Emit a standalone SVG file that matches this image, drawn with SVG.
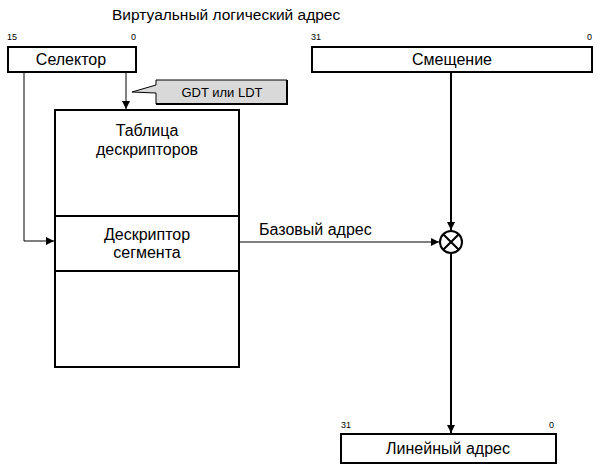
<svg xmlns="http://www.w3.org/2000/svg" width="601" height="467" viewBox="0 0 601 467">
<defs>
<style>
.box{fill:#fff;stroke:#000;stroke-width:2}
.t{font-family:"Liberation Sans",Arial,sans-serif;font-size:16px;fill:#000}
.m{text-anchor:middle}
.n{font-family:"Liberation Sans",Arial,sans-serif;font-size:9px;fill:#000}
.thin{fill:none;stroke:#000;stroke-width:1}
.thick{fill:none;stroke:#000;stroke-width:2}
</style>
<marker id="ah" viewBox="0 0 10 10" refX="10" refY="5" markerWidth="9" markerHeight="8" markerUnits="userSpaceOnUse" orient="auto">
<path d="M0,0 L10,5 L0,10 z" fill="#000"/>
</marker>
</defs>
<rect width="601" height="467" fill="#fff"/>
<text class="t" x="112" y="20" style="font-size:15.5px">Виртуальный логический адрес</text>
<g id="selector">
<rect class="box" x="8" y="47" width="128" height="25"/>
<text class="t m" x="71" y="65">Селектор</text>
<text class="n" x="7" y="40">15</text>
<text class="n" x="131" y="40">0</text>
</g>
<g id="offset">
<rect class="box" x="312" y="47" width="280" height="25"/>
<text class="t m" x="452" y="65">Смещение</text>
<text class="n" x="311" y="40">31</text>
<text class="n" x="587" y="40">0</text>
</g>
<g id="callout">
<polygon points="156,80 287,80 287,104 156,104 156,93 132,92 156,85" fill="#d9d9d9" stroke="#000" stroke-width="1"/>
<polyline points="287,80 287,104 156,104" fill="none" stroke="#000" stroke-width="2"/>
<text class="t m" x="222" y="97" style="font-size:13px">GDT или LDT</text>
</g>
<g id="table">
<rect class="box" x="55" y="110" width="184" height="257"/>
<line class="thick" x1="55" y1="216" x2="239" y2="216"/>
<line class="thick" x1="55" y1="271" x2="239" y2="271"/>
<text class="t m" x="147" y="136">Таблица</text>
<text class="t m" x="147" y="155">дескрипторов</text>
<text class="t m" x="147" y="240">Дескриптор</text>
<text class="t m" x="147" y="258">сегмента</text>
</g>
<g id="adder">
<circle cx="451" cy="242" r="11" fill="#fff" stroke="#000" stroke-width="2"/>
<line class="thick" x1="443.2" y1="234.2" x2="458.8" y2="249.8"/>
<line class="thick" x1="458.8" y1="234.2" x2="443.2" y2="249.8"/>
</g>
<g id="linear">
<rect class="box" x="341" y="434" width="215" height="29"/>
<text class="t m" x="448" y="454">Линейный адрес</text>
<text class="n" x="341" y="428">31</text>
<text class="n" x="549" y="428">0</text>
</g>
<g id="connectors">
<line class="thin" x1="126" y1="72" x2="126" y2="109" marker-end="url(#ah)"/>
<polyline class="thin" points="24,72 24,241 54,241" marker-end="url(#ah)"/>
<line class="thick" x1="451" y1="73" x2="451" y2="230" marker-end="url(#ah)"/>
<line class="thin" x1="240" y1="242" x2="439" y2="242" marker-end="url(#ah)"/>
<line class="thick" x1="451" y1="254" x2="451" y2="433" marker-end="url(#ah)"/>
<text class="t" x="259" y="235">Базовый адрес</text>
</g>
</svg>
